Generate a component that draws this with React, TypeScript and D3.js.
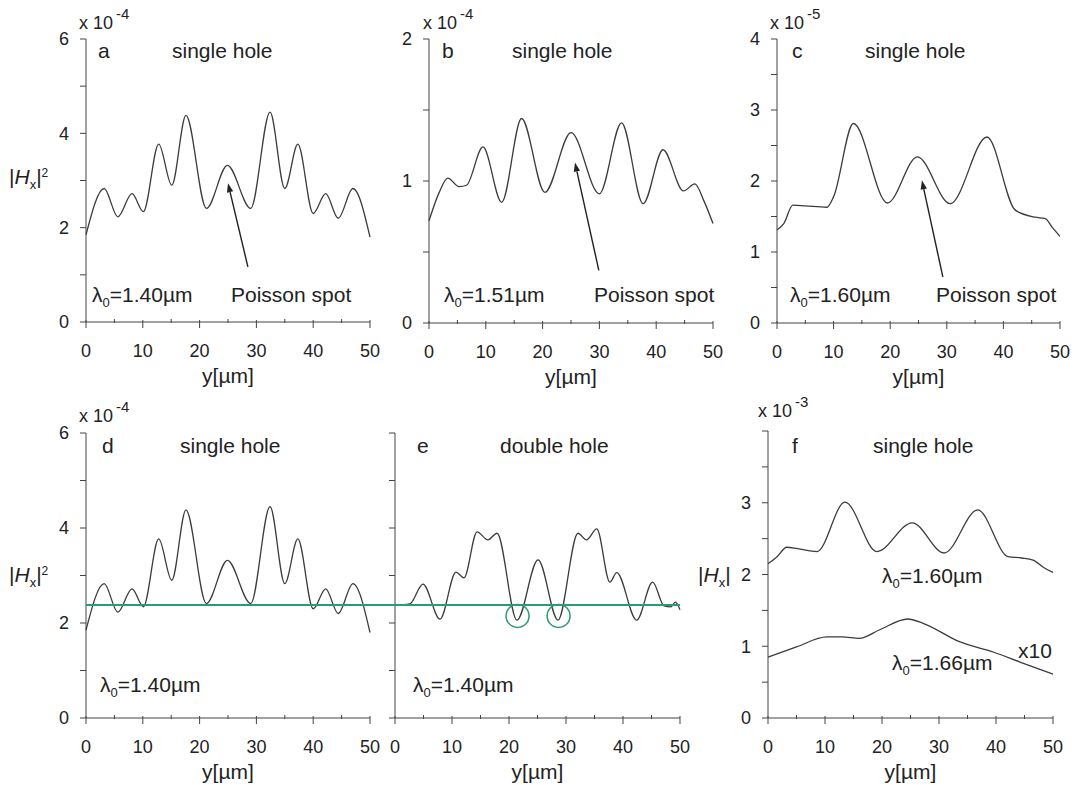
import React from 'react';
import * as d3 from 'd3';

// ---------- data ----------
const xTickValues = [0, 10, 20, 30, 40, 50];
const xMinorValues = [5, 15, 25, 35, 45];

// panel a / d : single hole, lambda0 = 1.40 um (x1e-4)
const aX = [0, 3.2, 5.6, 8.1, 10.1, 12.8, 15.1, 17.6, 21.2, 24.9, 29, 32.4, 35, 37.3, 40, 42.2, 44.4, 47, 50];
const aY = [1.85, 2.83, 2.23, 2.72, 2.34, 3.77, 2.9, 4.38, 2.41, 3.32, 2.41, 4.45, 2.83, 3.77, 2.3, 2.72, 2.2, 2.83, 1.8];

// panel b : single hole, lambda0 = 1.51 um (x1e-4)
const bX = [0, 1.8, 3.3, 5.3, 6.6, 9.5, 12.8, 16.3, 20.4, 25, 30, 33.9, 37.7, 41.2, 44.8, 46.8, 48.4, 50];
const bY = [0.72, 0.92, 1.02, 0.96, 0.97, 1.24, 0.85, 1.44, 0.92, 1.34, 0.91, 1.41, 0.84, 1.22, 0.93, 0.98, 0.86, 0.7];

// panel c : single hole, lambda0 = 1.60 um (x1e-5)
const cX = [0, 1.2, 2.8, 5, 8.8, 10, 13.5, 19.5, 24.8, 30.6, 37.1, 42.1, 45.6, 47.4, 48.6, 50];
const cY = [1.31, 1.4, 1.66, 1.65, 1.63, 1.78, 2.81, 1.69, 2.34, 1.68, 2.62, 1.59, 1.49, 1.47, 1.35, 1.22];

// panel e : double hole, lambda0 = 1.40 um (x1e-4)
const eX = [0, 2.6, 4.9, 7.9, 10.7, 12.1, 14.4, 16.3, 17.9, 21.4, 25.1, 28.6, 32.1, 33.6, 35.4, 37.7, 38.9, 42.4, 45.2, 47.2, 48.4, 49.2, 50];
const eY = [2.37, 2.4, 2.82, 2.08, 3.07, 2.95, 3.92, 3.75, 3.89, 2.06, 3.33, 2.06, 3.89, 3.75, 3.98, 2.86, 3.06, 2.06, 2.86, 2.36, 2.34, 2.44, 2.28];

// panel f : |Hx| single hole (x1e-3)
const f1X = [0, 1.5, 3.3, 5.2, 8.6, 13.5, 19.1, 25.3, 30.9, 36.8, 42.1, 44.5, 46.5, 48.5, 50];
const f1Y = [2.15, 2.24, 2.38, 2.36, 2.32, 3.01, 2.32, 2.72, 2.3, 2.9, 2.25, 2.23, 2.2, 2.09, 2.03];
const f2X = [0, 5, 10.3, 13, 16, 19.6, 24.5, 27.2, 33.7, 39.5, 44.2, 50];
const f2Y = [0.85, 0.99, 1.13, 1.13, 1.11, 1.23, 1.38, 1.32, 1.06, 0.92, 0.78, 0.61];

// reference level (green line) and marked minima in e
const refLevel = [2.38];
const circleX = [21.5, 28.7];
const circleY = [2.15, 2.15];

// Poisson spot arrows: [tailX, tailY, headX, headY]
const arrowA = [28.5, 1.17, 25, 2.94];
const arrowB = [29.9, 0.37, 25.7, 1.13];
const arrowC = [29.3, 0.65, 25.6, 2.01];

// ---------- layout ----------
const FONT = '"Liberation Sans", Arial, Helvetica, sans-serif';
const INK = '#222';
const LINE = '#3c3c3c';
const GREEN = '#2a9a78';
const FS = 21;

type Panel = {
  l: number; r: number; t: number; b: number; yMax: number;
  yTicks: number[]; yLabels: number[]; exp?: string;
};

const range = (a: number, b: number, s: number) => d3.range(a, b + s / 2, s);

const P: Record<string, Panel> = {
  a: { l: 86, r: 370, t: 39, b: 322, yMax: 6, yTicks: range(0, 6, 1), yLabels: [0, 2, 4, 6], exp: '-4' },
  b: { l: 429, r: 713, t: 39, b: 323, yMax: 2, yTicks: range(0, 2, 0.5), yLabels: [0, 1, 2], exp: '-4' },
  c: { l: 777, r: 1060, t: 39, b: 323, yMax: 4, yTicks: range(0, 4, 0.5), yLabels: [0, 1, 2, 3, 4], exp: '-5' },
  d: { l: 86, r: 370, t: 433, b: 718, yMax: 6, yTicks: range(0, 6, 1), yLabels: [0, 2, 4, 6], exp: '-4' },
  e: { l: 395, r: 680, t: 433, b: 718, yMax: 6, yTicks: range(0, 6, 1), yLabels: [] },
  f: { l: 768, r: 1053, t: 431, b: 718, yMax: 4, yTicks: range(0, 4, 0.5), yLabels: [0, 1, 2, 3], exp: '-3' },
};

const scales = (p: Panel) => ({
  x: d3.scaleLinear().domain([0, 50]).range([p.l, p.r]),
  y: d3.scaleLinear().domain([0, p.yMax]).range([p.b, p.t]),
});

function Axes({ p, expDx = -7, expDy = -10 }: { p: Panel; expDx?: number; expDy?: number }) {
  const { x, y } = scales(p);
  return (
    <g>
      <line x1={p.l} x2={p.l} y1={y(0)} y2={y(p.yMax)} stroke="#444" strokeWidth={1} />
      <line x1={x(0)} x2={x(50)} y1={p.b} y2={p.b} stroke="#444" strokeWidth={1} />
      {p.yTicks.map((v) => (
        <line key={'yt' + v} x1={p.l - 6} x2={p.l} y1={y(v)} y2={y(v)} stroke="#444" strokeWidth={1} />
      ))}
      {p.yLabels.map((v) => (
        <text key={'yl' + v} x={p.l - 17} y={y(v)} dy="0.36em" textAnchor="end" fontSize={18} fill={INK}>{v}</text>
      ))}
      {xTickValues.map((v) => (
        <line key={'xt' + v} x1={x(v)} x2={x(v)} y1={p.b - 2} y2={p.b + 6} stroke="#444" strokeWidth={1} />
      ))}
      {xMinorValues.map((v) => (
        <line key={'xm' + v} x1={x(v)} x2={x(v)} y1={p.b - 3} y2={p.b + 1} stroke="#444" strokeWidth={1} />
      ))}
      {xTickValues.map((v) => (
        <text key={'xl' + v} x={x(v)} y={p.b + 35} textAnchor="middle" fontSize={18} fill={INK}>{v}</text>
      ))}
      <text x={(p.l + p.r) / 2} y={p.b + 61} textAnchor="middle" fontSize={FS} fill={INK}>y[µm]</text>
      {p.exp && (
        <text x={p.l + expDx} y={p.t + expDy} fontSize={18} fill={INK}>
          x 10<tspan dy={-10} dx={3} fontSize={15}>{p.exp}</tspan>
        </text>
      )}
    </g>
  );
}

function Curve({ p, xs, ys }: { p: Panel; xs: number[]; ys: number[] }) {
  const { x, y } = scales(p);
  const pts = xs.map((v, i) => [v, ys[i]] as [number, number]);
  const line = d3.line<[number, number]>().x((d) => x(d[0])).y((d) => y(d[1])).curve(d3.curveMonotoneX);
  return <path d={line(pts) || ''} fill="none" stroke={LINE} strokeWidth={1.3} />;
}

function Arrow({ p, a }: { p: Panel; a: number[] }) {
  const { x, y } = scales(p);
  const x1 = x(a[0]), y1 = y(a[1]), x2 = x(a[2]), y2 = y(a[3]);
  const ang = Math.atan2(y2 - y1, x2 - x1);
  const L = 9, W = 3.2;
  const bx = x2 - L * Math.cos(ang), by = y2 - L * Math.sin(ang);
  const px = -Math.sin(ang) * W, py = Math.cos(ang) * W;
  return (
    <g>
      <line x1={x1} y1={y1} x2={bx} y2={by} stroke="#222" strokeWidth={1.4} />
      <polygon points={`${x2},${y2} ${bx + px},${by + py} ${bx - px},${by - py}`} fill="#222" />
    </g>
  );
}

function Lambda({ x, y, v }: { x: number; y: number; v: string }) {
  return (
    <text x={x} y={y} fontSize={FS} fill={INK}>
      λ<tspan dy={5} fontSize={13}>0</tspan><tspan dy={-5}>={v}µm</tspan>
    </text>
  );
}

function HLabel({ x, y, sq }: { x: number; y: number; sq: boolean }) {
  return (
    <text x={x} y={y} fontSize={FS} fill={INK}>
      |<tspan fontStyle="italic">H</tspan><tspan dy={5} fontSize={13}>x</tspan><tspan dy={-5}>|</tspan>
      {sq && <tspan dy={-7} fontSize={12}>2</tspan>}
    </text>
  );
}

export default function App() {
  const sd = scales(P.d);
  const se = scales(P.e);
  const greenY = sd.y(refLevel[0]);
  return (
    <svg width={1075} height={785} style={{ position: 'absolute', left: 0, top: 0, background: '#fff' }} fontFamily={FONT}>
      <rect x={0} y={0} width={1075} height={785} fill="#fff" />
      {/* panel a */}
      <Axes p={P.a} />
      <Curve p={P.a} xs={aX} ys={aY} />
      <Arrow p={P.a} a={arrowA} />
      <text x={98} y={58} fontSize={FS} fill={INK}>a</text>
      <text x={172} y={58} fontSize={FS} fill={INK}>single hole</text>
      <Lambda x={92} y={302} v="1.40" />
      <text x={231} y={302} fontSize={FS} fill={INK}>Poisson spot</text>
      <HLabel x={9} y={184} sq={true} />

      {/* panel b */}
      <Axes p={P.b} expDx={-6} />
      <Curve p={P.b} xs={bX} ys={bY} />
      <Arrow p={P.b} a={arrowB} />
      <text x={442} y={58} fontSize={FS} fill={INK}>b</text>
      <text x={512} y={58} fontSize={FS} fill={INK}>single hole</text>
      <Lambda x={444} y={302} v="1.51" />
      <text x={594} y={302} fontSize={FS} fill={INK}>Poisson spot</text>

      {/* panel c */}
      <Axes p={P.c} />
      <Curve p={P.c} xs={cX} ys={cY} />
      <Arrow p={P.c} a={arrowC} />
      <text x={792} y={58} fontSize={FS} fill={INK}>c</text>
      <text x={865} y={58} fontSize={FS} fill={INK}>single hole</text>
      <Lambda x={790} y={302} v="1.60" />
      <text x={936} y={302} fontSize={FS} fill={INK}>Poisson spot</text>

      {/* panel d */}
      <Axes p={P.d} expDy={-11} />
      <Curve p={P.d} xs={aX} ys={aY} />
      <text x={102} y={453} fontSize={FS} fill={INK}>d</text>
      <text x={180} y={453} fontSize={FS} fill={INK}>single hole</text>
      <Lambda x={100} y={692} v="1.40" />
      <HLabel x={9} y={582} sq={true} />

      {/* panel e */}
      <Axes p={P.e} />
      <Curve p={P.e} xs={eX} ys={eY} />
      <text x={417} y={453} fontSize={FS} fill={INK}>e</text>
      <text x={500} y={453} fontSize={FS} fill={INK}>double hole</text>
      <Lambda x={413} y={692} v="1.40" />
      {circleX.map((cx, i) => (
        <circle key={'c' + i} cx={se.x(cx)} cy={se.y(circleY[i])} r={11.5} fill="none" stroke={GREEN} strokeWidth={1.5} />
      ))}

      {/* reference line across d and e */}
      <line x1={sd.x(0)} x2={se.x(50)} y1={greenY} y2={greenY} stroke={GREEN} strokeWidth={2} />

      {/* panel f */}
      <Axes p={P.f} expDx={-10} expDy={-14} />
      <Curve p={P.f} xs={f1X} ys={f1Y} />
      <Curve p={P.f} xs={f2X} ys={f2Y} />
      <text x={792} y={453} fontSize={FS} fill={INK}>f</text>
      <text x={873} y={453} fontSize={FS} fill={INK}>single hole</text>
      <Lambda x={882} y={583} v="1.60" />
      <Lambda x={892} y={670} v="1.66" />
      <text x={1018} y={658} fontSize={FS} fill={INK}>x10</text>
      <HLabel x={698} y={582} sq={false} />
    </svg>
  );
}
